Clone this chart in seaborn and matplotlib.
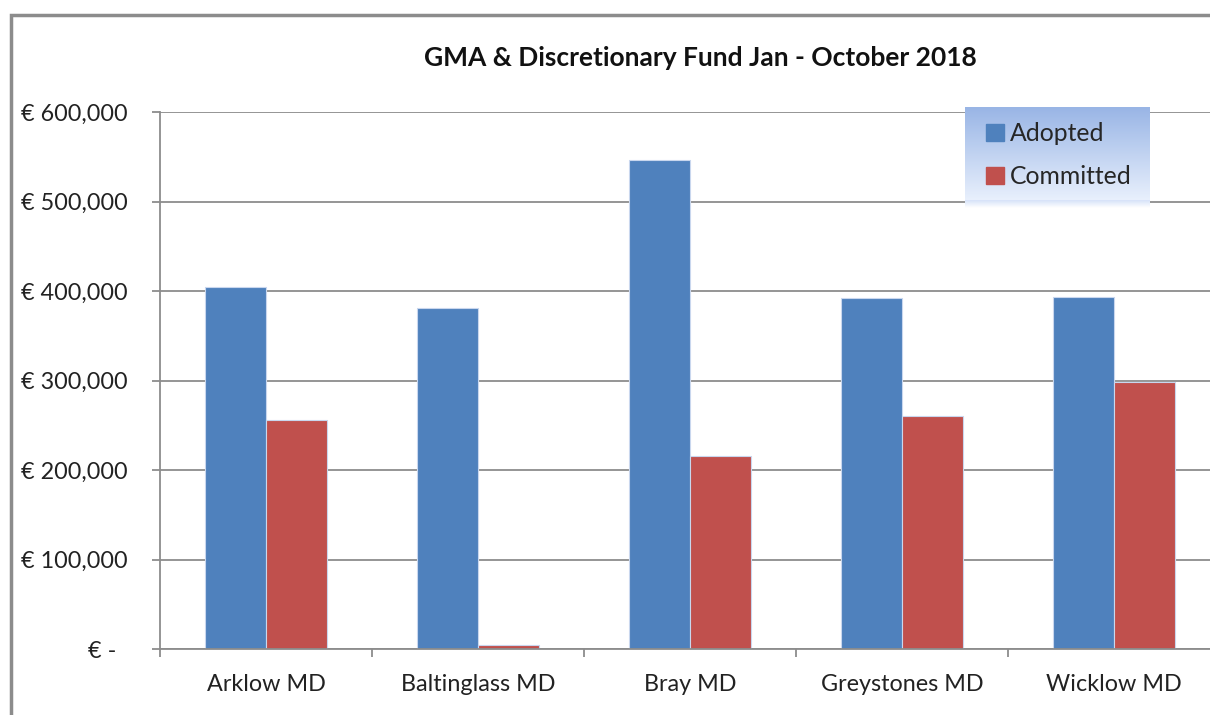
import numpy as np
import pandas as pd
import matplotlib
matplotlib.use('Agg')
import matplotlib.pyplot as plt
import matplotlib.ticker as mticker
from matplotlib.patches import Rectangle
import seaborn as sns

districts = ['Arklow MD', 'Baltinglass MD', 'Bray MD', 'Greystones MD', 'Wicklow MD']
adopted = [404000, 381000, 546000, 392000, 393000]
committed = [256000, 4500, 216000, 260000, 298000]
series = ['Adopted', 'Committed']
colours = ['#4F81BD', '#C0504D']
yticks = [0, 100000, 200000, 300000, 400000, 500000, 600000]

df = pd.DataFrame({'district': districts * 2,
                   'amount': adopted + committed,
                   'type': ['Adopted'] * 5 + ['Committed'] * 5})

sns.set_theme(style='white')
plt.rcParams['font.family'] = ['Lato', 'DejaVu Sans']

fig = plt.figure(figsize=(12.1, 7.15), dpi=100)
W, H = 1210, 715

# outer chart frame (cut off at right/bottom as in the screenshot)
fig.patches.append(Rectangle((11 / W, -0.1), 1.2, 1 - 15 / H + 0.1,
                             transform=fig.transFigure, fill=False,
                             edgecolor='#8c8c8c', linewidth=2.5))

ax = fig.add_axes([160 / W, 1 - 649 / H, 1060 / W, 537 / H])

sns.barplot(data=df, x='district', y='amount', hue='type',
            palette=colours, saturation=1, width=0.575, gap=0, ax=ax,
            edgecolor='#c9d7ee', linewidth=0.8, legend=False)

ax.set_ylim(0, 600000)
ax.set_xlim(-0.5, 4.5)
ax.set_yticks(yticks)
ax.yaxis.set_major_formatter(mticker.FuncFormatter(
    lambda v, p: '€ -  ' if v == 0 else f'€ {int(v):,}'))
ax.grid(axis='y', color='#8c8c8c', linewidth=1.3)
ax.set_axisbelow(True)
ax.set_xlabel('')
ax.set_ylabel('')

for s in ['top', 'right']:
    ax.spines[s].set_visible(False)
for s in ['left', 'bottom']:
    ax.spines[s].set_color('#8c8c8c')
    ax.spines[s].set_linewidth(1.3)

# x ticks at category boundaries, labels at centres
ax.set_xticks(np.arange(-0.5, 5, 1))
ax.set_xticklabels([])
ax.set_xticks(np.arange(5), minor=True)
ax.set_xticklabels(districts, minor=True, fontsize=16.8, color='#222222')
ax.tick_params(axis='x', which='major', direction='out', length=6,
               color='#8c8c8c', width=1.3, bottom=True)
ax.tick_params(axis='x', which='minor', length=0, pad=18)
ax.tick_params(axis='y', direction='out', length=6, color='#8c8c8c',
               width=1.3, left=True, labelsize=16.8, labelcolor='#222222', pad=17)

fig.text(700 / W, 1 - 58 / H, 'GMA & Discretionary Fund Jan - October 2018',
         ha='center', va='center', fontsize=19, fontweight='bold', color='#111111')

# legend with gradient background and a soft shadow
sax = fig.add_axes([965 / W, 1 - 208 / H, 185 / W, 10 / H])
shadow = np.linspace(0, 1, 20).reshape(-1, 1)
simg = np.array([0.80, 0.86, 0.97]) + (1 - np.array([0.80, 0.86, 0.97])) * shadow[:, :, None]
sax.imshow(simg, aspect='auto', extent=[0, 1, 0, 1], origin='upper')
sax.set_axis_off()

lax = fig.add_axes([965 / W, 1 - 200 / H, 185 / W, 93 / H])
grad = np.linspace(0, 1, 100).reshape(-1, 1)
top = np.array([0.60, 0.71, 0.90])
bot = np.array([0.91, 0.94, 0.99])
img = top + (bot - top) * grad[:, :, None]
lax.imshow(img, aspect='auto', extent=[0, 1, 0, 1], origin='upper')
lax.set_axis_off()

handles = [Rectangle((0, 0), 1, 1, color=c) for c in colours]
fig.legend(handles, series, loc='upper left',
           bbox_to_anchor=(964 / W, 1 - 100 / H), frameon=False,
           fontsize=17.8, handlelength=0.72, handleheight=0.72,
           handletextpad=0.25, labelspacing=0.8)

fig.savefig('out.png', dpi=100)
